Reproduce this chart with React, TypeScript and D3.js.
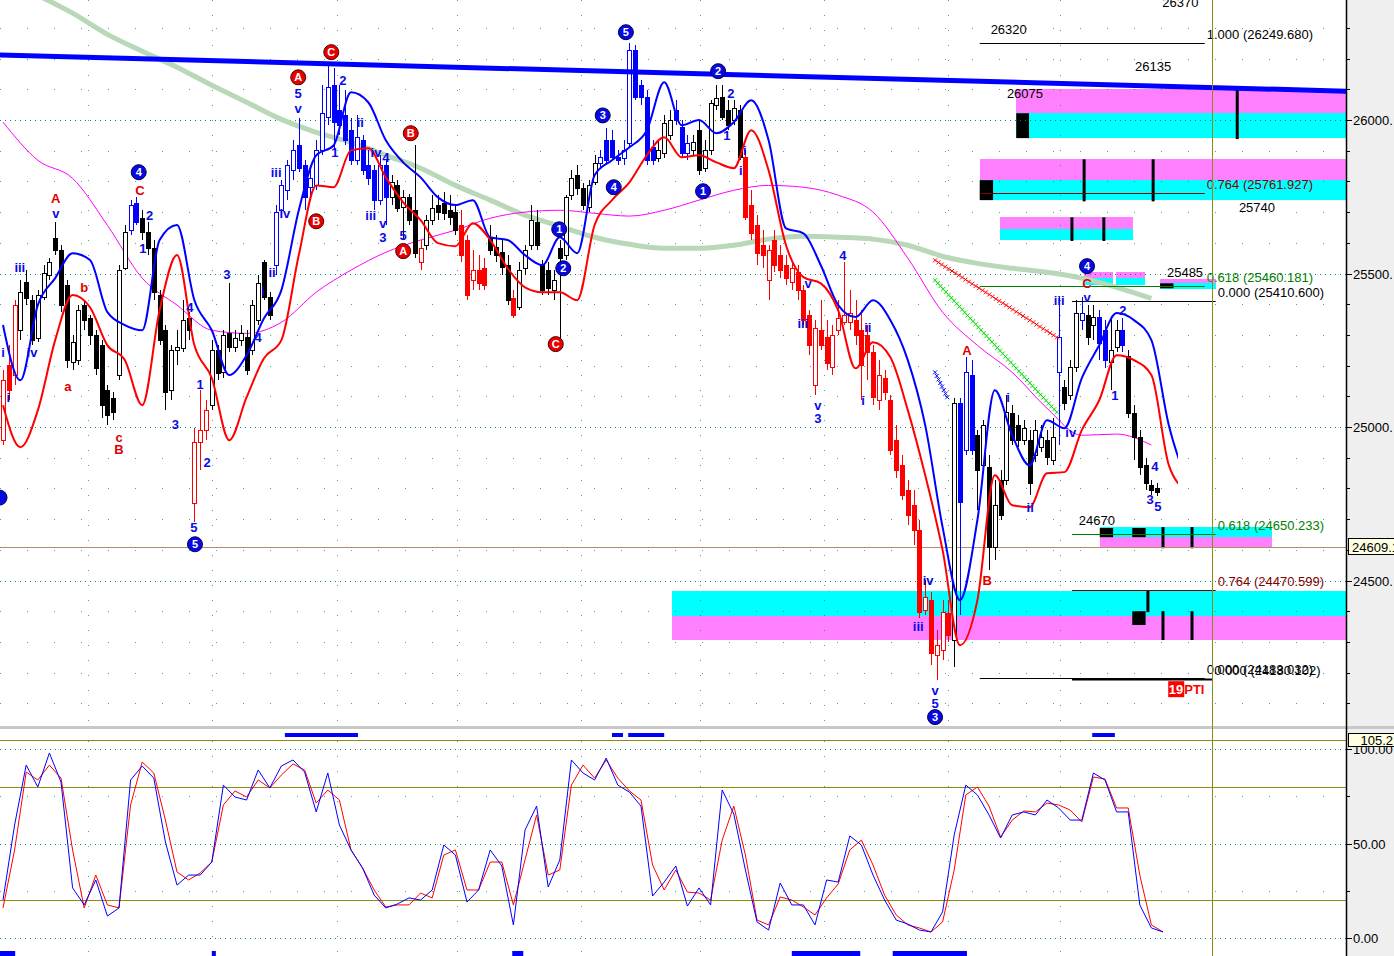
import { curveMonotoneX, line, range, scaleLinear } from "d3";

const W = 1394;
const H = 956;
const axisX = 1346;
const mainBottom = 725;
const subTop = 741;

// [open, high, low, close], one per bar
const candles: Array<[number, number, number, number]> = [
  [24957,25185,24940,25152],[25201,25266,25087,25120],[25169,25413,25136,25397],[25315,25478,25283,25439],[25472,25511,25397,25420],[25413,25430,25266,25283],[25289,25446,25276,25430],[25423,25527,25413,25501],[25495,25550,25478,25537],[25615,25667,25560,25576],
  [25576,25592,25374,25397],[25462,25478,25192,25218],[25211,25299,25185,25276],[25218,25397,25201,25380],[25397,25413,25315,25348],[25354,25364,25266,25299],[25299,25315,25169,25192],[25266,25283,25028,25071],[25120,25136,25006,25038],[25094,25113,25022,25048],
  [25169,25527,25152,25511],[25518,25658,25511,25635],[25641,25739,25625,25723],[25729,25748,25658,25667],[25680,25706,25609,25635],[25635,25667,25560,25583],[25583,25609,25413,25439],[25430,25446,25266,25283],[25315,25332,25054,25113],[25120,25266,25087,25250],
  [25250,25315,25201,25260],[25257,25413,25244,25348],[25354,25374,25283,25315],[24752,24996,24690,24950],[24950,25120,24859,24989],[24989,25087,24957,25054],[25071,25283,25054,25250],[25250,25266,25152,25175],[25178,25315,25159,25299],[25306,25469,25244,25260],
  [25260,25315,25244,25289],[25283,25332,25263,25306],[25292,25315,25169,25185],[25250,25413,25234,25397],[25348,25495,25332,25469],[25537,25544,25413,25423],[25423,25439,25348,25364],[25527,25723,25495,25700],[25706,25803,25690,25787],[25771,25869,25739,25852],
  [25836,25934,25803,25901],[25917,26005,25829,25843],[25852,25869,25706,25748],[25781,25836,25739,25810],[25787,25934,25771,25901],[25901,26113,25885,26022],[26009,26178,25983,26106],[26113,26168,25901,25992],[26031,26113,25950,25983],[26015,26097,25917,25934],
  [25966,26005,25852,25869],[25869,26015,25852,25943],[25934,25950,25820,25836],[25852,25901,25787,25810],[25836,25852,25706,25739],[25739,25885,25723,25852],[25852,25869,25658,25748],[25748,25820,25723,25797],[25787,25803,25700,25713],[25716,25771,25609,25748],
  [25748,25758,25658,25674],[25706,25917,25550,25566],[25537,25609,25511,25583],[25592,25690,25576,25674],[25674,25755,25658,25713],[25723,25755,25674,25700],[25729,25764,25674,25697],[25706,25755,25658,25684],[25700,25723,25625,25641],[25658,25706,25537,25560],
  [25609,25625,25413,25430],[25478,25576,25446,25511],[25511,25560,25446,25469],[25518,25550,25446,25462],[25618,25658,25560,25576],[25586,25625,25537,25560],[25570,25609,25495,25521],[25527,25560,25397,25413],[25420,25446,25354,25364],[25390,25537,25380,25511],
  [25518,25592,25495,25576],[25592,25723,25576,25674],[25667,25706,25576,25592],[25527,25544,25430,25446],[25511,25537,25430,25452],[25446,25511,25413,25478],[25583,25609,25283,25550],[25560,25755,25544,25748],[25755,25836,25739,25810],[25820,25852,25755,25777],
  [25777,25794,25706,25723],[25716,25803,25700,25787],[25797,25885,25787,25859],[25859,25901,25843,25878],[25934,25973,25852,25869],[25934,25966,25869,25878],[25878,25901,25852,25869],[25875,25934,25852,25901],[25924,26250,25908,26227],[26227,26243,26064,26074],
  [26113,26129,26048,26074],[26074,26097,25852,25869],[25911,25934,25852,25869],[25875,25934,25862,25901],[25891,26015,25875,25989],[25950,26031,25934,26000],[26031,26064,25983,26000],[25976,26000,25875,25891],[25891,25950,25869,25924],[25901,25950,25885,25927],
  [25966,26000,25820,25836],[25843,25934,25829,25901],[25901,26064,25885,26054],[26048,26113,26031,26071],[26074,26113,26000,26009],[26031,26064,25966,25983],[26000,26064,25983,26038],[26031,26048,25869,25878],[25878,25901,25674,25684],[25723,25771,25609,25632],
  [25658,25690,25527,25566],[25592,25641,25518,25560],[25478,25592,25413,25576],[25609,25641,25504,25527],[25560,25592,25485,25511],[25527,25560,25462,25485],[25472,25537,25446,25518],[25504,25527,25413,25446],[25446,25462,25332,25348],[25364,25380,25234,25266],
  [25136,25348,25104,25322],[25315,25413,25250,25266],[25292,25348,25185,25208],[25195,25332,25169,25299],[25315,25413,25299,25354],[25341,25537,25332,25364],[25341,25446,25315,25371],[25348,25413,25266,25299],[25315,25380,25087,25201],[25299,25332,25152,25244],
  [25244,25266,25071,25097],[25087,25218,25054,25169],[25159,25185,25087,25113],[25087,25104,24908,24924],[24957,25006,24833,24859],[24875,24908,24762,24778],[24794,24827,24681,24713],[24745,24794,24615,24664],[24664,24697,24377,24397],[24403,24501,24387,24446],
  [24436,24462,24224,24263],[24257,24338,24175,24289],[24273,24436,24241,24397],[24394,24436,24299,24322],[24306,25094,24218,25077],[25077,25094,24387,24755],[24924,25227,24908,25178],[25169,25218,24908,24924],[24973,24989,24729,24859],[24875,25022,24859,25006],
  [24869,24908,24534,24609],[24609,24827,24567,24745],[24827,24859,24697,24713],[24827,25104,24811,25048],[25045,25071,24940,24957],[25006,25038,24934,24957],[24957,25022,24940,24996],[24957,24989,24778,24817],[24908,25022,24886,24989],[24934,25006,24918,24967],
  [24957,24989,24875,24901],[24893,25028,24875,24967],[25178,25423,24940,25292],[25130,25152,25054,25077],[25104,25218,25087,25195],[25195,25413,25178,25371],[25348,25423,25315,25371],[25364,25397,25266,25292],[25332,25397,25283,25358],[25358,25380,25218,25273],
  [25315,25348,25192,25218],[25211,25354,25120,25250],[25260,25348,25244,25315],[25315,25354,25244,25266],[25231,25250,25028,25045],[25045,25071,24893,24967],[24967,24989,24843,24869],[24875,24898,24794,24817],[24811,24827,24778,24794],[24801,24817,24775,24788],
];

const redRuns = [[0, 2], [33, 35], [72, 72], [79, 83], [88, 88], [128, 163]];
const blueRuns = [[22, 23], [47, 66], [103, 112], [116, 118], [165, 167], [182, 182], [186, 186], [189, 190], [193, 193]];

// envelope bands, one value every 3 bars
const bandStep = 3;
const upperBand = [
  25332, 25152, 25397, 25485, 25566, 25544, 25374, 25332, 25315, 25609,
  25658, 25413, 25315, 25169, 25234, 25354, 25446, 25706, 25885, 25917,
  26090, 26057, 25934, 25862, 25813, 25748, 25723, 25739, 25618, 25609,
  25560, 25527, 25618, 25566, 25820, 25869, 25911, 25966, 26123, 25983,
  26000, 25957, 25993, 26064, 25934, 25647, 25631, 25527, 25397, 25358,
  25413, 25348, 25218, 25006, 24674, 24436, 24697, 25120, 24973, 24875,
  25022, 24996, 25159, 25266, 25371, 25348, 25283, 25006, 24827,
];
const lowerBand = [
  25071, 24934, 25054, 25283, 25430, 25390, 25266, 25218, 25071, 25380,
  25560, 25266, 25159, 24957, 25097, 25224, 25283, 25560, 25787, 25781,
  25901, 25908, 25813, 25732, 25674, 25599, 25589, 25664, 25609, 25517,
  25455, 25439, 25439, 25413, 25658, 25739, 25797, 25885, 25944, 25879,
  25885, 25862, 25843, 25967, 25836, 25592, 25488, 25468, 25380, 25191,
  25276, 25227, 25055, 24843, 24599, 24289, 24436, 24843, 24745, 24739,
  24849, 24853, 24990, 25087, 25234, 25218, 25169, 24876, 24794,
];

// moving averages, one value every 6 bars
const maStep = 6;
const fastMa = [
  25993, 25869, 25810, 25657, 25485, 25397, 25315, 25305, 25341, 25439,
  25511, 25569, 25609, 25641, 25680, 25700, 25706, 25696, 25687, 25706,
  25739, 25771, 25787, 25781, 25755, 25700, 25550, 25374, 25266, 25178,
  25061, 24973, 24977, 24941,
];
const slowMaStart = 6;
const slowMa = [
  26406, 26348, 26279, 26224, 26172, 26113, 26058, 26002, 25960, 25927,
  25885, 25843, 25787, 25739, 25690, 25654, 25618, 25595, 25582, 25582,
  25592, 25612, 25621, 25618, 25612, 25592, 25556, 25533, 25517, 25504,
  25485, 25455, 25419,
];

// stochastic, one value every 2 bars
const stochStep = 2;
const stochK = [
  20.1, 59.8, 91.5, 79.9, 97.9, 82.5, 26.5, 17.5, 30.7, 11.6,
  15.9, 83.6, 91, 84.6, 50.8, 28, 33.3, 33.3, 40.2, 80.9,
  74.6, 73, 88.9, 79.4, 91, 94.2, 87.8, 66.7, 87.3, 59.8,
  46.6, 37, 22.7, 15.9, 18, 21.2, 20.1, 25.4, 49.2, 43.9,
  19, 25.4, 46.6, 38.1, 6.9, 57.1, 69.8, 27, 41.3, 94.2,
  87.3, 83.6, 95.2, 80.9, 77.2, 69.8, 22.2, 29.6, 38.1, 16.9,
  26.5, 17.5, 78.3, 65.6, 36, 8.5, 4.2, 29.1, 17.5, 17.5,
  6.9, 30.7, 29.6, 54, 49.2, 33.3, 20.1, 9.5, 7.4, 4.2,
  3.2, 13.8, 54.5, 80.9, 75.7, 65.1, 52.9, 65.1, 66.7, 65.1,
  73, 68.8, 62.4, 62.4, 87.3, 83.6, 66.7, 66.7, 17.5, 5.3,
  3.2,
];
const stochD = [
  15.9, 46.6, 87.8, 83.6, 91.5, 84.6, 46.6, 15.9, 33.3, 17.5,
  15.9, 70.4, 93.1, 87.3, 62.4, 34.9, 30.7, 34.4, 40.2, 70.4,
  77.8, 74.6, 83.6, 79.4, 86.2, 92.1, 88.9, 71.4, 78.3, 73,
  46.6, 37, 25.4, 16.4, 17.5, 17.5, 23.8, 21.2, 43.9, 46.6,
  25.4, 25.4, 40.2, 40.2, 17.5, 41.3, 65.1, 33.3, 36, 80.9,
  91.5, 84.6, 94.2, 84.6, 77.8, 73, 38.6, 25.4, 36, 24.3,
  23.8, 20.1, 51.8, 69.8, 43.9, 9.5, 6.9, 21.7, 20.1, 16.4,
  12.2, 21.2, 28.6, 46.6, 51.8, 38.6, 22.7, 12.2, 6.9, 5.3,
  3.2, 8.5, 36, 75.7, 79.9, 69.8, 53.4, 62.4, 67.2, 66.7,
  71.4, 70.4, 67.7, 61.4, 85.2, 84.1, 68.8, 68.8, 33.3, 6.9,
  3.2,
];

// wave counts: text, bar, price, kind (b/r plain, B/R circled)
const waveLabels: Array<[string, number, number, string]> = [
  ["A", 9.1, 25745, "r"], ["v", 9.1, 25696, "b"], ["iii", 2.9, 25520, "b"], ["i", 0, 25244, "b"],
  ["i", 0.9, 25097, "b"], ["iv", 5, 25244, "b"], ["b", 14, 25455, "r"], ["a", 11.2, 25133, "r"],
  ["C", 23.6, 25771, "r"], ["4", 23.4, 25830, "B"], ["1", 24.1, 25582, "b"], ["2", 25.3, 25690, "b"],
  ["c", 20, 24967, "r"], ["B", 20, 24928, "r"], ["3", 29.7, 25009, "b"], ["4", 32.2, 25390, "b"],
  ["1", 34, 25139, "b"], ["2", 35.2, 24885, "b"], ["5", 32.9, 24674, "b"], ["5", 33.1, 24618, "B"],
  ["3", 38.6, 25498, "b"], ["4", 44, 25292, "b"], ["i", 44.8, 25442, "b"], ["ii", 46.4, 25504, "b"],
  ["iii", 47.1, 25830, "b"], ["iv", 48.6, 25696, "b"], ["A", 50.9, 26139, "R"], ["5", 50.9, 26087, "b"],
  ["v", 50.9, 26038, "b"], ["B", 54, 25670, "R"], ["C", 56.6, 26221, "R"], ["1", 57.2, 25895, "b"],
  ["2", 58.6, 26129, "b"], ["ii", 61.6, 25993, "b"], ["iv", 64.3, 25895, "b"], ["4", 66, 25879, "b"],
  ["iii", 63.4, 25690, "b"], ["v", 65.5, 25664, "b"], ["3", 65.5, 25618, "b"], ["5", 69, 25625, "b"],
  ["B", 70.3, 25957, "R"], ["A", 69, 25573, "R"], ["C", 95.3, 25270, "R"], ["1", 95.9, 25644, "B"],
  ["2", 96.6, 25517, "B"], ["3", 103.4, 26015, "B"], ["4", 105.3, 25781, "B"], ["5", 107.4, 26286, "B"],
  ["1", 120.7, 25768, "B"], ["2", 123.3, 26159, "B"], ["2", 125.5, 26087, "b"], ["1", 124.8, 25950, "b"],
  ["i", 127.9, 25901, "b"], ["i", 127.2, 25836, "b"], ["v", 138.8, 25468, "b"], ["iii", 137.9, 25338, "b"],
  ["4", 144.8, 25560, "b"], ["v", 140.5, 25071, "b"], ["3", 140.5, 25029, "b"], ["ii", 149.1, 25325, "b"],
  ["i", 148.3, 25087, "b"], ["iv", 159.5, 24501, "b"], ["iii", 157.8, 24351, "b"], ["v", 160.7, 24143, "b"],
  ["5", 160.7, 24100, "b"], ["3", 160.7, 24055, "B"], ["A", 166.2, 25250, "r"], ["B", 169.7, 24501, "r"],
  ["i", 173.3, 25097, "b"], ["ii", 177.1, 24739, "b"], ["iii", 182.1, 25413, "b"], ["iv", 184.1, 24983, "b"],
  ["v", 186.9, 25423, "b"], ["C", 186.9, 25468, "r"], ["4", 186.9, 25524, "B"], ["2", 193.1, 25380, "b"],
  ["1", 191.7, 25104, "b"], ["4", 198.6, 24872, "b"], ["3", 197.8, 24765, "b"], ["5", 199.1, 24742, "b"],
  ["", -0.6, 24770, "B"],
];

// target zones: from bar, to bar, top, middle, bottom, cyan on top?
const zones: Array<[number, number, number, number, number, boolean]> = [
  [174.7, 231.6, 26100, 26022, 25941, false],
  [168.4, 231.6, 25872, 25804, 25739, false],
  [171.9, 194.8, 25683, 25644, 25609, false],
  [186.4, 191.4, 25504, 25485, 25462, false],
  [191.9, 196.9, 25504, 25485, 25462, false],
  [199.5, 209.1, 25482, 25469, 25449, false],
  [189.1, 218.8, 24674, 24641, 24608, true],
  [115.3, 231.6, 24465, 24384, 24306, true],
];
const zoneBlocks = [
  [174.7, 176.9, 26022, 25941], [168.4, 170.7, 25804, 25739], [199.5, 201.8, 25468, 25452],
  [189.1, 191.4, 24671, 24641], [194.7, 197.0, 24671, 24641], [194.7, 197.0, 24400, 24355],
];
const zoneTicks = [
  [212.8, 26100, 25938], [186.4, 25872, 25735], [198.3, 25872, 25735], [184.3, 25683, 25606],
  [189.8, 25683, 25606], [200, 24674, 24605], [205, 24674, 24605], [197.4, 24469, 24397],
  [200, 24400, 24306], [205, 24400, 24306],
];

const fibLevels = [
  { label: "1.000 (26249.680)", value: 26249.68, from: 168.4, to: 207.2, color: "#000000" },
  { label: "0.764 (25761.927)", value: 25761.927, from: 168.4, to: 207.2, color: "#800000" },
  { label: "0.618 (25460.181)", value: 25460.181, from: 168.4, to: 207.2, color: "#008000" },
  { label: "0.000 (25410.600)", value: 25410.6, from: 184.3, to: 209.1, color: "#000000" },
  { label: "0.618 (24650.233)", value: 24650.233, from: 184.3, to: 209.1, color: "#008000" },
  { label: "0.764 (24470.599)", value: 24470.599, from: 184.3, to: 209.1, color: "#800000" },
  { label: "0.000 (24183.032)", value: 24183.032, from: 168.4, to: 207.2, color: "#000000" },
  { label: "0.000 (24180.102)", value: 24180.102, from: 184.3, to: 208.5, color: "#000000" },
];

const targetTexts: Array<[string, number, number]> = [
  ["26370", 203, 26383], ["26320", 173.4, 26296], ["26135", 198.3, 26175], ["26075", 176.2, 26087],
  ["25740", 216.2, 25716], ["25485", 203.8, 25504], ["24670", 188.6, 24697],
];

const xTrails = [
  { from: [160.7, 25543], to: [181.7, 25292], color: "#ff0000" },
  { from: [160.7, 25478], to: [181.7, 25048], color: "#00e000" },
  { from: [160.7, 25178], to: [162.8, 25097], color: "#0000ff" },
];

const trendFrom = [-0.6, 26212];
const trendTo = [231.6, 26094];
const lastPrice = 24609.1;
const cursorBar = 208.4;
const gridBars = [14.7, 36.0, 57.6, 78.3, 99.7, 120.2, 141.6, 163, 182.3];
const topSignals = [[48.6, 61.2], [105, 106.9], [107.8, 114], [187.8, 191.7]];
const bottomSignals = [[-0.6, 2.1], [36, 36.7], [87.8, 89.7], [136, 147.8], [153.4, 166.2]];
const priceTicks = [26000, 25500, 25000, 24500];
const stochTicks = [100, 50, 0];

const BLUE = "#0000ff";
const RED = "#ff0000";
const TEAL = "#008080";
const OLIVE = "#8c8c10";

export default function App() {
  const x = scaleLinear().domain([0, 199]).range([3, 1157.2]);
  const y = scaleLinear().domain([24000, 26000]).range([734, 120]);
  const s = scaleLinear().domain([0, 100]).range([938, 749]);

  const colorOf = (i: number) => {
    if (redRuns.some(([a, b]) => i >= a && i <= b)) return RED;
    if (blueRuns.some(([a, b]) => i >= a && i <= b)) return BLUE;
    return "#000000";
  };

  const bandPath = line<number>()
    .x((_, k) => x(k * bandStep))
    .y((v) => y(v))
    .curve(curveMonotoneX);
  const fastPath = line<number>()
    .x((_, k) => x(k * maStep))
    .y((v) => y(v))
    .curve(curveMonotoneX);
  const slowPath = line<number>()
    .x((_, k) => x(slowMaStart + k * maStep))
    .y((v) => y(v))
    .curve(curveMonotoneX);
  const stochPath = line<number>()
    .x((_, m) => x(m * stochStep))
    .y((v) => s(v));

  const minorLevels = range(24000, 26401, 100).filter((v) => v % 500 !== 0);
  const font = '"Liberation Sans", Arial, sans-serif';

  return (
    <div style={{ position: "fixed", left: 0, top: 0 }}>
      <svg width={W} height={H} style={{ display: "block", background: "#ffffff", fontFamily: font }}>
        <defs>
          <clipPath id="mainClip">
            <rect x={0} y={0} width={axisX} height={mainBottom} />
          </clipPath>
          <clipPath id="bandClip">
            <rect x={0} y={0} width={1178} height={mainBottom} />
          </clipPath>
          <clipPath id="subClip">
            <rect x={0} y={subTop} width={axisX} height={H - subTop} />
          </clipPath>
        </defs>

        {/* main panel */}
        <g clipPath="url(#mainClip)">
          {zones.map(([a, b, top, mid, bot, cyanTop], i) => (
            <g key={i} shapeRendering="crispEdges">
              <rect x={x(a)} width={x(b) - x(a)} y={y(top)} height={y(mid) - y(top)} fill={cyanTop ? "#00ffff" : "#ff80ff"} />
              <rect x={x(a)} width={x(b) - x(a)} y={y(mid)} height={y(bot) - y(mid)} fill={cyanTop ? "#ff80ff" : "#00ffff"} />
            </g>
          ))}
          {zoneBlocks.map(([a, b, top, bot], i) => (
            <rect key={i} x={x(a)} width={x(b) - x(a)} y={y(top)} height={y(bot) - y(top)} fill="#000" />
          ))}
          {zoneTicks.map(([b, top, bot], i) => (
            <line key={i} x1={x(b)} x2={x(b)} y1={y(top)} y2={y(bot)} stroke="#000" strokeWidth={3} />
          ))}

          {minorLevels.map((v) => (
            <line key={v} x1={0} x2={axisX} y1={Math.round(y(v)) + 0.5} y2={Math.round(y(v)) + 0.5} stroke={TEAL} strokeDasharray="1,26" opacity={0.7} />
          ))}
          {gridBars.map((b) => (
            <line key={b} x1={Math.round(x(b)) + 0.5} x2={Math.round(x(b)) + 0.5} y1={0} y2={mainBottom} stroke={TEAL} strokeDasharray="1,14" opacity={0.7} />
          ))}
          {priceTicks.map((v) => (
            <line key={v} x1={0} x2={axisX} y1={Math.round(y(v)) + 0.5} y2={Math.round(y(v)) + 0.5} stroke={TEAL} strokeDasharray="1,4" />
          ))}
          <line x1={0} x2={axisX} y1={Math.round(y(lastPrice)) + 0.5} y2={Math.round(y(lastPrice)) + 0.5} stroke="#b09060" />

          <path d={slowPath(slowMa) ?? ""} fill="none" stroke="#b8d8b8" strokeWidth={5} />
          <path d={fastPath(fastMa) ?? ""} fill="none" stroke="#ff00ff" strokeWidth={1} />

          {candles.map(([o, h, l, c], i) => {
            const col = colorOf(i);
            const cx = Math.round(x(i));
            const top = Math.round(y(Math.max(o, c)));
            const bot = Math.round(y(Math.min(o, c)));
            return (
              <g key={i} shapeRendering="crispEdges">
                <line x1={cx + 0.5} x2={cx + 0.5} y1={y(h)} y2={y(l)} stroke={col} />
                <rect x={cx - 1.5} y={top + 0.5} width={4} height={Math.max(1, bot - top)} fill={c >= o ? "#ffffff" : col} stroke={col} />
              </g>
            );
          })}

          <g clipPath="url(#bandClip)">
            <path d={bandPath(upperBand) ?? ""} fill="none" stroke={BLUE} strokeWidth={2} />
            <path d={bandPath(lowerBand) ?? ""} fill="none" stroke={RED} strokeWidth={2} />
          </g>

          {xTrails.map((t, i) => {
            const x0 = x(t.from[0]), y0 = y(t.from[1]), x1 = x(t.to[0]), y1 = y(t.to[1]);
            const n = Math.max(2, Math.round(Math.hypot(x1 - x0, y1 - y0) / 4));
            return (
              <g key={i} stroke={t.color} strokeWidth={1}>
                {range(n + 1).map((k) => {
                  const px = x0 + ((x1 - x0) * k) / n;
                  const py = y0 + ((y1 - y0) * k) / n;
                  return (
                    <g key={k}>
                      <line x1={px - 2} x2={px + 2} y1={py - 2} y2={py + 2} />
                      <line x1={px - 2} x2={px + 2} y1={py + 2} y2={py - 2} />
                    </g>
                  );
                })}
              </g>
            );
          })}

          <line x1={x(trendFrom[0])} y1={y(trendFrom[1])} x2={x(trendTo[0])} y2={y(trendTo[1])} stroke={BLUE} strokeWidth={5} />

          {fibLevels.map((f, i) => (
            <g key={i}>
              <line x1={x(f.from)} x2={x(f.to)} y1={Math.round(y(f.value)) + 0.5} y2={Math.round(y(f.value)) + 0.5} stroke={f.color} strokeWidth={i === 7 ? 2 : 1} />
              <text x={x(f.to) + 2} y={y(f.value) - 4} fontSize={13} fill={f.color}>{f.label}</text>
            </g>
          ))}
          {targetTexts.map(([t, b, p], i) => (
            <text key={i} x={x(b)} y={y(p)} fontSize={13} textAnchor="middle" dominantBaseline="central" fill="#000">{t}</text>
          ))}
          <rect x={x(200.9)} y={y(24146) - 8} width={16} height={16} fill={RED} />
          <text x={x(200.9) + 0.5} y={y(24146) + 5} fontSize={13} fontWeight="bold" fill="#fff">19</text>
          <text x={x(200.9) + 16} y={y(24146) + 5} fontSize={13} fontWeight="bold" fill={RED}>PTI</text>

          {waveLabels.map(([t, b, p, kind], i) => {
            const cx = x(b), cy = y(p);
            if (kind === "B" || kind === "R") {
              return (
                <g key={i}>
                  <circle cx={cx} cy={cy} r={7.5} fill={kind === "B" ? "#0808e0" : "#e80000"} stroke={kind === "B" ? "#000050" : "#500000"} strokeWidth={1} />
                  <text x={cx} y={cy + 4} fontSize={11} fontWeight="bold" textAnchor="middle" fill="#fff">{t}</text>
                </g>
              );
            }
            return (
              <text key={i} x={cx} y={cy + 5} fontSize={13} fontWeight="bold" textAnchor="middle" fill={kind === "r" ? "#e00000" : "#0a0ae6"}>{t}</text>
            );
          })}
        </g>

        {/* panel separator */}
        <rect x={0} y={726} width={W} height={3} fill="#c8c8c8" />
        {topSignals.map(([a, b], i) => (
          <rect key={i} x={x(a)} width={x(b) - x(a)} y={733} height={4} fill={BLUE} />
        ))}

        {/* stochastic panel */}
        <g clipPath="url(#subClip)">
          {[75, 25].map((v) => (
            <line key={v} x1={0} x2={axisX} y1={Math.round(s(v)) + 0.5} y2={Math.round(s(v)) + 0.5} stroke={TEAL} strokeDasharray="1,26" opacity={0.7} />
          ))}
          {gridBars.map((b) => (
            <line key={b} x1={Math.round(x(b)) + 0.5} x2={Math.round(x(b)) + 0.5} y1={subTop} y2={H} stroke={TEAL} strokeDasharray="1,14" opacity={0.7} />
          ))}
          {stochTicks.map((v) => (
            <line key={v} x1={0} x2={axisX} y1={Math.round(s(v)) + 0.5} y2={Math.round(s(v)) + 0.5} stroke={TEAL} strokeDasharray="1,4" />
          ))}
          {[80, 20].map((v) => (
            <line key={v} x1={0} x2={axisX} y1={Math.round(s(v)) + 0.5} y2={Math.round(s(v)) + 0.5} stroke={OLIVE} strokeWidth={1.2} />
          ))}
          <path d={stochPath(stochD) ?? ""} fill="none" stroke={RED} strokeWidth={1} />
          <path d={stochPath(stochK) ?? ""} fill="none" stroke={BLUE} strokeWidth={1} />
          {bottomSignals.map(([a, b], i) => (
            <rect key={i} x={x(a)} width={x(b) - x(a)} y={951} height={5} fill={BLUE} />
          ))}
        </g>
        <line x1={0} x2={axisX} y1={740.5} y2={740.5} stroke={OLIVE} strokeWidth={1.2} />

        {/* cursor */}
        <line x1={Math.round(x(cursorBar)) + 0.5} x2={Math.round(x(cursorBar)) + 0.5} y1={0} y2={H} stroke={OLIVE} strokeWidth={1} />

        {/* right axis */}
        <rect x={axisX} y={0} width={W - axisX} height={H} fill="#efefef" />
        <rect x={axisX} y={726} width={W - axisX} height={3} fill="#c8c8c8" />
        <line x1={axisX + 0.5} x2={axisX + 0.5} y1={0} y2={H} stroke="#000" strokeWidth={1.5} />
        {minorLevels.map((v) => (
          <line key={v} x1={axisX} x2={axisX + 4} y1={Math.round(y(v)) + 0.5} y2={Math.round(y(v)) + 0.5} stroke="#000" />
        ))}
        {priceTicks.map((v) => (
          <g key={v}>
            <line x1={axisX} x2={axisX + 6} y1={Math.round(y(v)) + 0.5} y2={Math.round(y(v)) + 0.5} stroke="#000" />
            <text x={axisX + 7} y={y(v) + 5} fontSize={13} fill="#000">{`${v}.`}</text>
          </g>
        ))}
        <rect x={axisX + 2.5} y={y(lastPrice) - 8.5} width={50} height={16} fill="#ffffe1" stroke="#000" />
        <text x={axisX + 6} y={y(lastPrice) + 5} fontSize={13} fill="#000">{lastPrice.toFixed(1)}</text>

        {[75, 25].map((v) => (
          <line key={v} x1={axisX} x2={axisX + 4} y1={Math.round(s(v)) + 0.5} y2={Math.round(s(v)) + 0.5} stroke="#000" />
        ))}
        {stochTicks.map((v) => (
          <g key={v}>
            <line x1={axisX} x2={axisX + 6} y1={Math.round(s(v)) + 0.5} y2={Math.round(s(v)) + 0.5} stroke="#000" />
            <text x={axisX + 7} y={s(v) + 5} fontSize={13} fill="#000">{v.toFixed(2)}</text>
          </g>
        ))}
        <rect x={axisX + 2.5} y={733.5} width={50} height={13} fill="#ffffe1" stroke="#000" />
        <text x={W - 1} y={745} fontSize={13} textAnchor="end" fill="#000">105.2</text>
      </svg>
    </div>
  );
}
